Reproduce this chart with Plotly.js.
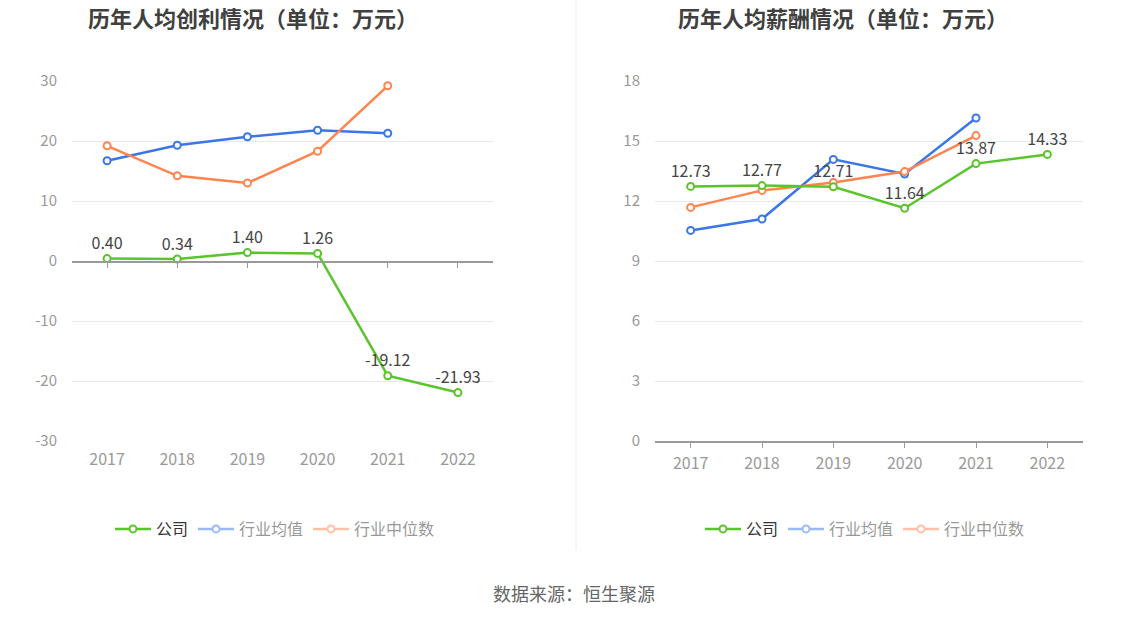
<!DOCTYPE html>
<html>
<head>
<meta charset="utf-8">
<script src="https://cdn.plot.ly/plotly-3.0.1.min.js"></script>
<style>html,body{margin:0;padding:0;background:#fff;}#chart{width:1148px;height:619px;}</style>
</head>
<body>
<div id="chart"></div>
<script>
// ---- data ----
const years = ['2017', '2018', '2019', '2020', '2021', '2022'];
const profitCompany = [0.40, 0.34, 1.40, 1.26, -19.12, -21.93];
const profitIndustryAvg = [16.7, 19.3, 20.7, 21.8, 21.3, null];
const profitIndustryMedian = [19.2, 14.2, 13.0, 18.3, 29.2, null];
const salaryCompany = [12.73, 12.77, 12.71, 11.64, 13.87, 14.33];
const salaryIndustryAvg = [10.53, 11.1, 14.08, 13.35, 16.15, null];
const salaryIndustryMedian = [11.68, 12.53, 12.93, 13.47, 15.27, null];
const seriesNames = ['公司', '行业均值', '行业中位数'];
const profitTickVals = [-30, -20, -10, 0, 10, 20, 30];
const profitTickText = ['-30', '-20', '-10', '0', '10', '20', '30'];
const salaryTickVals = [0, 3, 6, 9, 12, 15, 18];
const leftTitle = '历年人均创利情况（单位：万元）';
const rightTitle = '历年人均薪酬情况（单位：万元）';
const sourceText = '数据来源：恒生聚源';

const GREEN = '#5ac42b', BLUE = '#3a76e8', ORANGE = '#ff8450';
const FONT = '"Noto Sans CJK SC", "Noto Sans", sans-serif';
const W = 1148, T = 81, B = 441, PH = B - T;
const py = p => (B - p) / PH; // pixel y -> paper y

function mk(color) {
  return {symbol: 'circle', size: 7, color: '#fff', line: {color: color, width: 2}};
}
function series(x, y, name, color, xa, ya, opts) {
  return Object.assign({
    type: 'scatter', mode: 'lines+markers', x: x, y: y, name: name,
    xaxis: xa, yaxis: ya, line: {color: color, width: 2.5}, marker: mk(color),
    cliponaxis: false, hoverinfo: 'x+y'
  }, opts || {});
}
function lbl(v) { return v.map(d => d.toFixed(2)); }
const txtOpts = (vals) => ({
  mode: 'lines+markers+text', text: lbl(vals), textposition: 'top center',
  textfont: {family: FONT, size: 16, color: '#444'}
});

const data = [
  // left chart
  series(years, profitIndustryAvg, seriesNames[1], BLUE, 'x', 'y', {visible: 'legendonly', legend: 'legend', legendrank: 2}),
  series(years, profitIndustryMedian, seriesNames[2], ORANGE, 'x', 'y', {visible: 'legendonly', legend: 'legend', legendrank: 3}),
  series(years, profitIndustryAvg, seriesNames[1], BLUE, 'x', 'y', {showlegend: false}),
  series(years, profitIndustryMedian, seriesNames[2], ORANGE, 'x', 'y', {showlegend: false}),
  series(years, profitCompany, seriesNames[0], GREEN, 'x3', 'y', Object.assign(txtOpts(profitCompany), {legend: 'legend', legendrank: 1})),
  // right chart
  series(years, salaryIndustryAvg, seriesNames[1], BLUE, 'x2', 'y2', {visible: 'legendonly', legend: 'legend2', legendrank: 2}),
  series(years, salaryIndustryMedian, seriesNames[2], ORANGE, 'x2', 'y2', {visible: 'legendonly', legend: 'legend2', legendrank: 3}),
  series(years, salaryIndustryAvg, seriesNames[1], BLUE, 'x2', 'y2', {showlegend: false}),
  series(years, salaryIndustryMedian, seriesNames[2], ORANGE, 'x2', 'y2', {showlegend: false}),
  series(years, salaryCompany, seriesNames[0], GREEN, 'x2', 'y2', Object.assign(txtOpts(salaryCompany), {legend: 'legend2', legendrank: 1}))
];

const tickFontX = {family: FONT, size: 16, color: '#999'};
const tickFontY = {family: FONT, size: 15, color: '#999'};
const baseX = {
  type: 'category', categoryorder: 'array', categoryarray: years, range: [-0.5, 5.5],
  showgrid: false, zeroline: false, fixedrange: true, tickfont: tickFontX
};
const baseY = {
  showgrid: true, gridcolor: '#e6e9f0', gridwidth: 1, zeroline: false, showline: false,
  ticks: '', tickfont: tickFontY, ticklabelstandoff: 14, fixedrange: true, tickmode: 'array'
};
const legendBase = {
  orientation: 'h', xanchor: 'left', yanchor: 'middle', y: py(529),
  font: {family: FONT, size: 16, color: '#333'}, bgcolor: 'rgba(0,0,0,0)',
  itemclick: false, itemdoubleclick: false, traceorder: 'normal', tracegroupgap: 0, itemwidth: 36
};

const layout = {
  width: W, height: 619,
  margin: {l: 0, r: 0, t: T, b: 619 - B},
  paper_bgcolor: '#fff', plot_bgcolor: '#fff',
  font: {family: FONT},
  showlegend: true,
  xaxis: Object.assign({}, baseX, {domain: [72 / W, 493 / W], anchor: 'y', showline: false, ticks: '', ticklabelstandoff: 7}),
  xaxis3: Object.assign({}, baseX, {overlaying: 'x', anchor: 'free', position: 0.5, showline: true,
    linecolor: '#999', linewidth: 1.5, ticks: 'outside', ticklen: 5, tickcolor: '#999', showticklabels: false}),
  yaxis: Object.assign({}, baseY, {domain: [0, 1], anchor: 'x', range: [-30, 30], tickvals: profitTickVals, ticktext: profitTickText}),
  xaxis2: Object.assign({}, baseX, {domain: [655 / W, 1083 / W], anchor: 'y2', showline: true,
    linecolor: '#999', linewidth: 1.5, ticks: 'outside', ticklen: 5, tickcolor: '#999', ticklabelstandoff: 2}),
  yaxis2: Object.assign({}, baseY, {domain: [0, 1], anchor: 'x2', range: [0, 18], tickvals: salaryTickVals, ticktext: salaryTickVals.map(String)}),
  legend: Object.assign({}, legendBase, {x: 110 / W}),
  legend2: Object.assign({}, legendBase, {x: 700 / W}),
  annotations: [
    {text: '<b>' + leftTitle + '</b>', xref: 'paper', yref: 'paper', x: 253 / W, y: py(17),
      xanchor: 'center', yanchor: 'middle', showarrow: false, font: {family: FONT, size: 22, color: '#404040'}},
    {text: '<b>' + rightTitle + '</b>', xref: 'paper', yref: 'paper', x: 843 / W, y: py(17),
      xanchor: 'center', yanchor: 'middle', showarrow: false, font: {family: FONT, size: 22, color: '#404040'}},
    {text: sourceText, xref: 'paper', yref: 'paper', x: 574 / W, y: py(593),
      xanchor: 'center', yanchor: 'middle', showarrow: false, font: {family: FONT, size: 18, color: '#666'}}
  ],
  shapes: [
    {type: 'line', xref: 'paper', yref: 'paper', x0: 576 / W, x1: 576 / W, y0: py(550), y1: py(0),
      line: {color: '#eeeeee', width: 1}}
  ]
};

Plotly.newPlot('chart', data, layout, {displayModeBar: false, staticPlot: true});
</script>
</body>
</html>
